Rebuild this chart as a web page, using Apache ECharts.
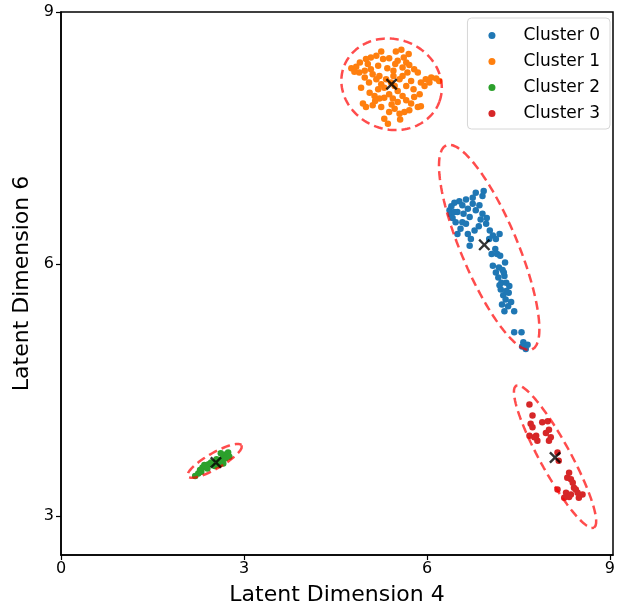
<!DOCTYPE html>
<html>
<head>
<meta charset="utf-8">
<script src="https://cdn.jsdelivr.net/npm/echarts@6/dist/echarts.min.js"></script>
<style>
  html, body { margin: 0; padding: 0; background: #fff; }
  #chart { width: 624px; height: 610px; }
</style>
</head>
<body>
<div id="chart"></div>
<script>
const clusterNames = ['Cluster 0', 'Cluster 1', 'Cluster 2', 'Cluster 3'];
const clusterColors = ['#1f77b4', '#ff7f0e', '#2ca02c', '#d62728'];
const xTicks = [0, 3, 6, 9];
const yTicks = [3, 6, 9];

const cluster0 = [
  [6.93,6.87],[6.80,6.85],[6.91,6.81],[6.75,6.79],[6.64,6.77],[6.53,6.75],[6.45,6.73],[6.40,6.69],[6.37,6.64],[6.39,6.59],
  [6.42,6.55],[6.47,6.50],[6.50,6.62],[6.58,6.70],[6.60,6.60],[6.67,6.66],[6.70,6.56],[6.75,6.72],[6.80,6.64],[6.86,6.70],
  [6.91,6.60],[6.88,6.53],[6.85,6.45],[6.97,6.48],[7.03,6.40],[6.78,6.40],[6.67,6.36],[6.50,6.36],[6.58,6.50],[6.64,6.48],
  [6.72,6.30],[6.45,6.62],[6.55,6.42],[6.70,6.22],[6.98,6.55],[7.02,6.30],[7.08,6.34],[7.13,6.30],[7.19,6.36],[7.12,6.18],
  [7.15,6.12],[7.06,6.12],[7.20,6.10],[7.08,5.98],[7.18,5.96],[7.28,6.02],[7.24,5.93],[7.13,5.90],[7.27,5.86],[7.17,5.84],
  [7.22,5.78],[7.30,5.78],[7.35,5.74],[7.21,5.70],[7.34,5.66],[7.25,5.63],[7.29,5.58],[7.23,5.52],[7.33,5.50],[7.27,5.44],
  [7.43,5.44],[7.38,5.55],[7.30,5.68],[7.19,5.75],[7.26,5.90],[7.43,5.19],[7.55,5.19],[7.58,5.07],[7.62,4.99],[7.56,5.02],
  [7.65,5.04]
];
const cluster1 = [
  [5.58,8.55],[5.49,8.53],[5.25,8.53],[5.17,8.48],[5.08,8.46],[5.28,8.44],[5.38,8.45],[5.52,8.42],[5.66,8.40],[5.71,8.37],
  [4.76,8.33],[4.84,8.35],[4.81,8.29],[4.89,8.28],[4.98,8.30],[5.03,8.38],[5.08,8.32],[5.11,8.26],[5.17,8.20],[5.22,8.24],
  [5.33,8.20],[5.41,8.16],[5.47,8.12],[5.55,8.20],[5.60,8.24],[5.68,8.28],[5.79,8.32],[5.85,8.28],[5.74,8.18],[5.66,8.12],
  [5.52,8.06],[5.90,8.16],[5.98,8.20],[6.07,8.22],[6.15,8.21],[6.20,8.18],[6.04,8.16],[5.96,8.12],[5.06,8.04],[5.14,8.00],
  [5.22,7.97],[5.30,7.98],[5.38,8.02],[5.44,7.97],[5.52,7.93],[5.60,8.00],[5.66,7.95],[5.74,7.91],[5.79,7.99],[5.85,7.87],
  [5.90,7.88],[5.71,7.83],[5.63,7.81],[5.55,7.79],[5.47,7.85],[5.38,7.81],[5.30,7.73],[5.36,7.67],[5.25,7.87],[5.11,7.89],
  [5.00,7.87],[4.95,7.91],[4.92,8.10],[4.90,8.40],[5.00,8.44],[5.20,8.36],[5.35,8.33],[5.45,8.30],[5.60,8.34],[5.45,8.24],
  [5.30,8.10],[5.20,8.08],[5.05,8.16],[5.62,8.46],[5.78,8.08],[5.88,8.02],[5.70,8.50],[5.42,7.90],[5.15,7.94],[5.25,8.14],
  [4.98,8.22],[5.56,7.72],[5.48,8.38]
];
const cluster2 = [
  [2.25,3.51],[2.28,3.55],[2.32,3.58],[2.35,3.61],[2.30,3.53],[2.42,3.62],[2.46,3.64],[2.52,3.60],[2.58,3.61],[2.60,3.66],
  [2.64,3.68],[2.67,3.72],[2.71,3.74],[2.74,3.76],[2.70,3.69],[2.76,3.71],[2.66,3.63],[2.55,3.68],[2.62,3.75],[2.40,3.57],
  [2.20,3.48]
];
const cluster3 = [
  [7.68,4.33],[7.73,4.20],[7.89,4.12],[7.98,4.13],[7.70,4.10],[7.73,4.06],[8.00,4.03],[7.95,3.99],[8.03,3.94],[8.00,3.90],
  [7.79,3.96],[7.81,3.90],[7.76,3.94],[7.68,3.96],[8.14,3.76],[8.16,3.66],[8.33,3.52],[8.30,3.46],[8.36,3.44],[8.41,3.34],
  [8.44,3.32],[8.28,3.28],[8.25,3.22],[8.36,3.26],[8.33,3.23],[8.49,3.22],[8.55,3.26],[8.47,3.28],[8.14,3.32],[8.39,3.40]
];
const centroids = [[6.94,6.23],[5.42,8.14],[2.54,3.64],[8.10,3.70]];

// ellipse: center, half-axis vector u, half-axis vector v (data units)
const ellipseCenters = [[7.02,6.20],[5.42,8.14],[2.52,3.66],[8.10,3.71]];
const ellipseU = [[0.704,-1.214],[0.784,-0.207],[0.442,0.185],[0.638,-0.845]];
const ellipseV = [[0.426,0.131],[0.252,0.504],[0.064,-0.081],[0.219,0.088]];

const ellipsePoints = (i) => {
  let pts = [];
  for (let k = 0; k <= 120; k++) {
    let t = k / 120 * Math.PI * 2;
    pts.push([
      ellipseCenters[i][0] + ellipseU[i][0] * Math.cos(t) + ellipseV[i][0] * Math.sin(t),
      ellipseCenters[i][1] + ellipseU[i][1] * Math.cos(t) + ellipseV[i][1] * Math.sin(t)
    ]);
  }
  return pts;
}

const clusters = [cluster0, cluster1, cluster2, cluster3];
const font = 'DejaVu Sans';

let series = [];
clusters.forEach((pts, i) => {
  series.push({
    name: clusterNames[i],
    type: 'scatter',
    data: pts,
    symbolSize: 6.5,
    itemStyle: { color: clusterColors[i], opacity: 1 },
    z: 2
  });
});
clusters.forEach((pts, i) => {
  series.push({
    name: 'ellipse' + i,
    type: 'line',
    data: ellipsePoints(i),
    showSymbol: false,
    smooth: false,
    silent: true,
    lineStyle: { color: 'rgba(255,0,0,0.7)', width: 2.5, type: [9, 5] },
    z: 3
  });
});
series.push({
  name: 'centroids',
  type: 'scatter',
  data: centroids,
  symbol: 'path://M0,1.4L1.4,0L5,3.6L8.6,0L10,1.4L6.4,5L10,8.6L8.6,10L5,6.4L1.4,10L0,8.6L3.6,5Z',
  symbolSize: 12,
  itemStyle: { color: '#000' },
  z: 4
});

const option = {
  animation: false,
  backgroundColor: '#fff',
  grid: {
    left: 61, right: 11, top: 12, bottom: 55,
    outerBoundsMode: 'none',
    show: true, borderColor: '#000', borderWidth: 1.5, backgroundColor: 'transparent'
  },
  legend: {
    data: clusterNames,
    orient: 'vertical',
    right: 14,
    top: 18,
    icon: 'circle',
    itemWidth: 7,
    itemHeight: 7,
    itemGap: 9,
    padding: [9, 10, 7, 21],
    backgroundColor: 'rgba(255,255,255,0.8)',
    borderColor: '#d6d6d6',
    borderWidth: 1,
    borderRadius: 4,
    textStyle: { fontFamily: font, fontSize: 17, color: '#000', padding: [0, 0, 0, 23] }
  },
  xAxis: {
    type: 'value',
    min: 0,
    max: 9.05,
    name: 'Latent Dimension 4',
    nameLocation: 'middle',
    nameGap: 29,
    nameTextStyle: { fontFamily: font, fontSize: 22, color: '#000' },
    axisLine: { show: true, lineStyle: { color: '#000', width: 1.5 } },
    axisTick: { show: true, length: 5, lineStyle: { color: '#000', width: 1.2 }, customValues: xTicks },
    axisLabel: { fontFamily: font, fontSize: 16, color: '#000', margin: 6, customValues: xTicks },
    splitLine: { show: false }
  },
  yAxis: {
    type: 'value',
    min: 2.54,
    max: 9,
    name: 'Latent Dimension 6',
    nameLocation: 'middle',
    nameGap: 27,
    nameTextStyle: { fontFamily: font, fontSize: 22, color: '#000' },
    axisLine: { show: true, lineStyle: { color: '#000', width: 1.5 } },
    axisTick: { show: true, length: 5, lineStyle: { color: '#000', width: 1.2 }, customValues: yTicks },
    axisLabel: { fontFamily: font, fontSize: 16, color: '#000', margin: 7, customValues: yTicks },
    splitLine: { show: false }
  },
  series: series
};

let chart = echarts.init(document.getElementById('chart'));
chart.setOption(option);
</script>
</body>
</html>
